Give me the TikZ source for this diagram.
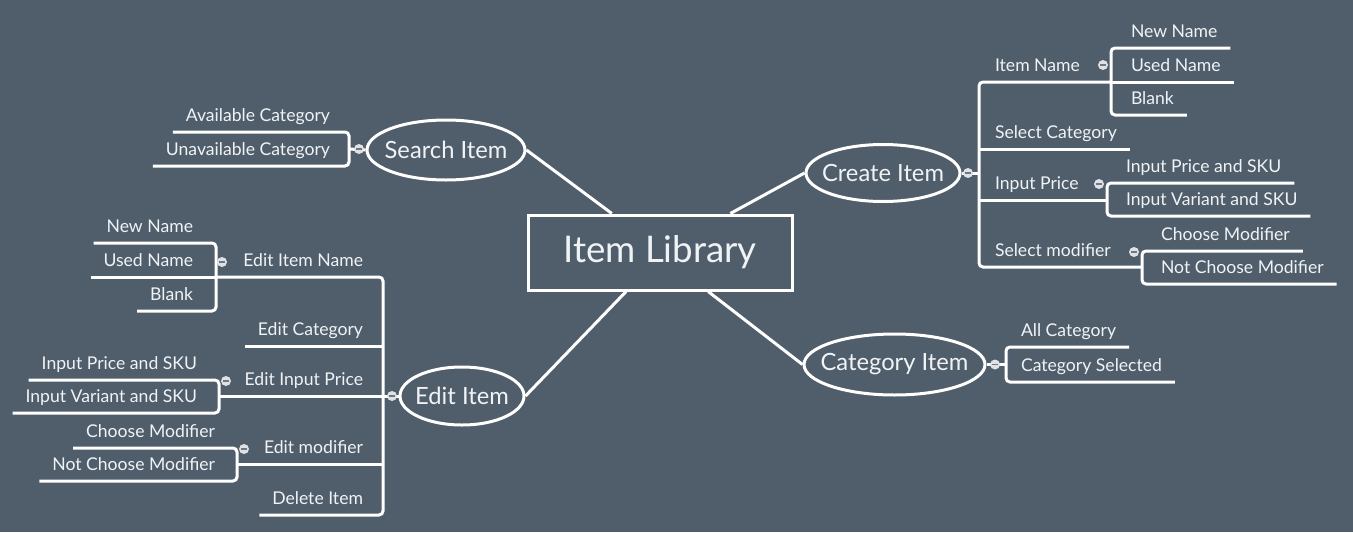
\documentclass[tikz,border=0pt]{standalone}
\usepackage{fontspec}
\setmainfont{Lato}
\usetikzlibrary{shapes.geometric}
\definecolor{bg}{RGB}{80,94,107}
\definecolor{txt}{RGB}{240,243,246}
\definecolor{mkfill}{RGB}{222,226,230}
\definecolor{mkdash}{RGB}{110,120,132}
\begin{document}
\begin{tikzpicture}[x=0.75pt,y=-0.75pt,
  ln/.style={draw=white, line width=2.25pt},
  sp/.style={ln, rounded corners=3pt},
  leafR/.style={anchor=south west, inner xsep=9.75pt, inner ysep=5.25pt, outer sep=0pt, text height=9.5pt, text depth=3pt, font=\fontsize{13.2}{15}\selectfont, text=txt},
  leafL/.style={leafR, anchor=south east},
  topic/.style={ellipse, draw=white, line width=2.25pt, inner xsep=-20pt, inner ysep=0pt, font=\fontsize{17.8}{21}\selectfont, text=txt},
  mk/.style={circle, fill=mkfill, inner sep=0pt, minimum size=7.5pt, path picture={\draw[mkdash,line width=0.9pt] ([xshift=-2pt]path picture bounding box.center) -- ([xshift=2pt]path picture bounding box.center);}}
]
\fill[bg] (0,0) rectangle (1353,532);
\useasboundingbox (0,0) rectangle (1353,532);

% central and main topics
\node[draw=white, line width=2.25pt, minimum width=198pt, minimum height=56.25pt, font=\fontsize{27.5}{32}\selectfont, text=txt] (lib) at (660,252.5) {Item Library};
\node[topic, minimum width=118.5pt, minimum height=45pt] (search) at (446,150) {Search Item};
\node[topic, minimum width=115.5pt, minimum height=42.75pt] (create) at (883,173) {Create Item};
\node[topic, minimum width=135.75pt, minimum height=45.75pt] (cat) at (894.5,364.5) {Category Item};
\node[topic, minimum width=93pt, minimum height=43.5pt] (edit) at (462,396) {Edit Item};

\draw[ln] (lib.141) -- (search.east);
\draw[ln] (lib.29) -- (create.west);
\draw[ln] (lib.-39) -- (cat.west);
\draw[ln] (lib.-131) -- (edit.east);

% ---- Create Item ----
\coordinate (cA) at (979,173);
\coordinate (cB) at (1111,82);
\coordinate (cC) at (1107,200);
\coordinate (cD) at (1142,267);
\node[leafR] (IN) at (982,82) {Item Name};
\node[leafR] (SC) at (982,149) {Select Category};
\node[leafR] (IP) at (982,200) {Input Price};
\node[leafR] (SMo) at (982,267) {Select modifier};
\draw[sp] (cB) -| (cA) |- (cD);
\draw[ln] (cA |- SC.south) -- (SC.south east);
\draw[ln] (cA |- IP.south) -- (cC);
\draw[ln] (create.east) -- (cA);
\node[mk] (mkA) at (968,173) {};

\node[leafR] (NN1) at (1118,48) {New Name};
\node[leafR] (UN1) at (1118,82) {Used Name};
\node[leafR] (BL1) at (1118,115) {Blank};
\draw[sp] (NN1.south east) -| (cB) |- (BL1.south east);
\draw[ln] (cB) -- (UN1.south east);
\node[mk] (mkB) at (1103,65) {};

\node[leafR] (IPS1) at (1113,183) {Input Price and SKU};
\node[leafR] (IVS1) at (1113,216) {Input Variant and SKU};
\draw[sp] (IPS1.south east) -| (cC) |- (IVS1.south east);
\node[mk] (mkC) at (1099,184) {};

\node[leafR] (CM1) at (1148,251) {Choose Modifier};
\node[leafR] (NCM1) at (1148,284) {Not Choose Modifier};
\draw[sp] (CM1.south east) -| (cD) |- (NCM1.south east);
\node[mk] (mkD) at (1134,252) {};

% ---- Category Item ----
\coordinate (cE) at (1006,364.5);
\node[leafR] (AC) at (1008,347) {All Category};
\node[leafR] (CSel) at (1008,382) {Category Selected};
\draw[sp] (AC.south east) -| (cE) |- (CSel.south east);
\draw[ln] (cat.east) -- (cE);
\node[mk] (mkE) at (995,364.5) {};

% ---- Search Item ----
\coordinate (cF) at (349,149);
\node[leafL] (AvC) at (343,132) {Available Category};
\node[leafL] (UnC) at (343,166) {Unavailable Category};
\draw[sp] (AvC.south west) -| (cF) |- (UnC.south west);
\draw[ln] (search.west) -- (cF);
\node[mk] (mkF) at (359,149) {};

% ---- Edit Item ----
\coordinate (cG) at (383,396);
\coordinate (cH) at (216,277);
\coordinate (cI) at (219,396);
\coordinate (cJ) at (237,464);
\node[leafL] (EIN) at (376,277) {Edit Item Name};
\node[leafL] (EC) at (376,346) {Edit Category};
\node[leafL] (EIP) at (376,396) {Edit Input Price};
\node[leafL] (EM) at (376,464) {Edit modifier};
\node[leafL] (DI) at (376,515) {Delete Item};
\draw[sp] (cH) -| (cG) |- (DI.south west);
\draw[ln] (cG |- EC.south) -- (EC.south west);
\draw[ln] (cI) -- (cG);
\draw[ln] (cJ) -- (cG |- EM.south);
\draw[ln] (edit.west) -- (cG);
\node[mk] (mkG) at (392,396) {};

\node[leafL] (NN2) at (206,243) {New Name};
\node[leafL] (UN2) at (206,277) {Used Name};
\node[leafL] (BL2) at (206,311) {Blank};
\draw[sp] (NN2.south west) -| (cH) |- (BL2.south west);
\draw[ln] (UN2.south west) -- (cH);
\node[mk] (mkH) at (222,262) {};

\node[leafL] (IPS2) at (210,380) {Input Price and SKU};
\node[leafL] (IVS2) at (210,413) {Input Variant and SKU};
\draw[sp] (IPS2.south west) -| (cI) |- (IVS2.south west);
\node[mk] (mkI) at (226,381) {};

\node[leafL] (CM2) at (228,448) {Choose Modifier};
\node[leafL] (NCM2) at (228,481) {Not Choose Modifier};
\draw[sp] (CM2.south west) -| (cJ) |- (NCM2.south west);
\node[mk] (mkJ) at (244,449) {};
\end{tikzpicture}
\end{document}
